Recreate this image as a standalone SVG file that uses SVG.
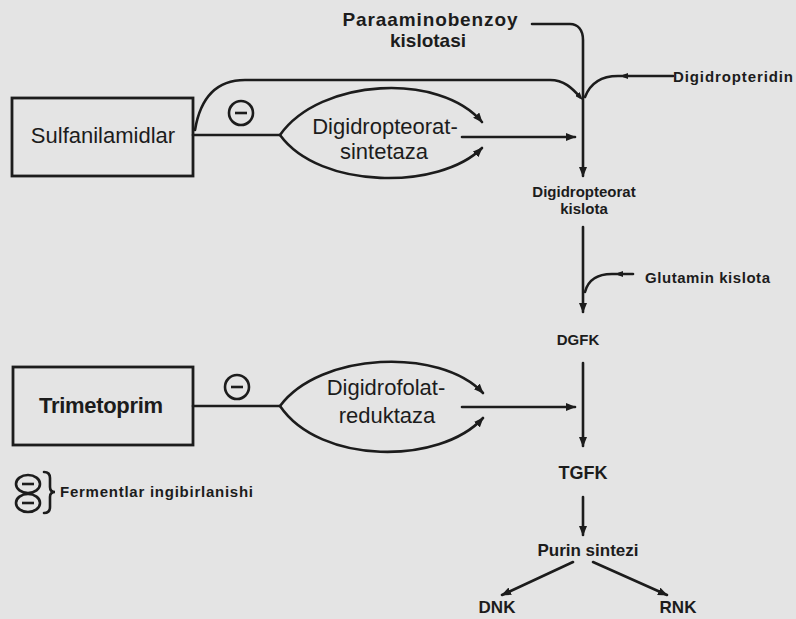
<svg xmlns="http://www.w3.org/2000/svg" width="796" height="619" viewBox="0 0 796 619">
<defs>
<style>
.ln{fill:none;stroke:#1c1c1c;stroke-width:2.6;stroke-linecap:round}
.box{fill:none;stroke:#1c1c1c;stroke-width:2.8}
.t{font-family:"Liberation Sans",Arial,sans-serif;fill:#1c1c1c}
.big{font-size:22px}
.b{font-weight:bold}
.inh{fill:none;stroke:#1c1c1c;stroke-width:2.6}
</style>
<marker id="ah" viewBox="0 0 10 8" refX="9" refY="4" markerWidth="10" markerHeight="8" markerUnits="userSpaceOnUse" orient="auto">
<path d="M0,0 L10,4 L0,8 Z" fill="#1c1c1c"/>
</marker>
<marker id="ahs" viewBox="0 0 8 6" refX="4" refY="3" markerWidth="8" markerHeight="6" markerUnits="userSpaceOnUse" orient="auto">
<path d="M0,0 L8,3 L0,6 Z" fill="#1c1c1c"/>
</marker>
</defs>
<rect x="0" y="0" width="796" height="619" fill="#e4e4e4"/>

<g id="connectors">
<path class="ln" d="M532,24 L570,24 C578,24 583,30 583,40 L583,176" marker-end="url(#ah)"/>
<path class="ln" d="M195,130 C200,100 215,80 245,80 L550,80 C564,80 572,88 580,97" marker-end="url(#ahs)"/>
<path class="ln" d="M673,76 L624,76" marker-end="url(#ahs)"/>
<path class="ln" d="M626,76 L618,76 C600,76 590,84 585,97"/>
<path class="ln" d="M193,135 L280,135"/>
<path class="ln" d="M280,135 C320,78 440,72 482,122" marker-end="url(#ah)"/>
<path class="ln" d="M280,135 C320,190 440,190 482,148" marker-end="url(#ah)"/>
<path class="ln" d="M462,137 L575,137" marker-end="url(#ah)"/>
<path class="ln" d="M583,227 L583,312" marker-end="url(#ah)"/>
<path class="ln" d="M633,274 L619,274" marker-end="url(#ahs)"/>
<path class="ln" d="M621,274 L612,274 C598,274 588,280 585,292"/>
<path class="ln" d="M193,406 L280,406"/>
<path class="ln" d="M280,406 C320,352 440,347 483,393" marker-end="url(#ah)"/>
<path class="ln" d="M280,406 C320,465 440,465 483,418" marker-end="url(#ah)"/>
<path class="ln" d="M462,407 L575,407" marker-end="url(#ah)"/>
<path class="ln" d="M583,363 L583,446" marker-end="url(#ah)"/>
<path class="ln" d="M583,497 L583,535" marker-end="url(#ah)"/>
<path class="ln" d="M573,562 L502,595" marker-end="url(#ah)"/>
<path class="ln" d="M593,562 L667,595" marker-end="url(#ah)"/>
</g>

<g id="paba">
<text class="t b" x="430" y="26" font-size="19" text-anchor="middle" textLength="175">Paraaminobenzoy</text>
<text class="t b" x="428" y="47" font-size="19" text-anchor="middle">kislotasi</text>
</g>
<g id="digidropteridin">
<text class="t b" x="673" y="82" font-size="15" textLength="120">Digidropteridin</text>
</g>
<g id="sulfanilamidlar">
<rect class="box" x="12" y="98" width="181" height="78"/>
<text class="t big" x="103" y="143" text-anchor="middle">Sulfanilamidlar</text>
</g>
<g id="inhibit1">
<circle class="inh" cx="241" cy="113" r="12"/>
<line class="inh" x1="235" y1="113" x2="247" y2="113"/>
</g>
<g id="enzyme1">
<text class="t big" x="385" y="134" text-anchor="middle">Digidropteorat-</text>
<text class="t big" x="384" y="159" text-anchor="middle">sintetaza</text>
</g>
<g id="digidropteorat-kislota">
<text class="t b" x="584" y="197" font-size="15" text-anchor="middle">Digidropteorat</text>
<text class="t b" x="584" y="214" font-size="15" text-anchor="middle">kislota</text>
</g>
<g id="glutamin">
<text class="t b" x="645" y="283" font-size="15" textLength="125">Glutamin kislota</text>
</g>
<g id="dgfk">
<text class="t b" x="578" y="345" font-size="15" text-anchor="middle">DGFK</text>
</g>
<g id="trimetoprim">
<rect class="box" x="13" y="367" width="180" height="78"/>
<text class="t big b" x="101" y="413" text-anchor="middle" textLength="124">Trimetoprim</text>
</g>
<g id="inhibit2">
<circle class="inh" cx="237" cy="387" r="12"/>
<line class="inh" x1="231" y1="387" x2="243" y2="387"/>
</g>
<g id="enzyme2">
<text class="t big" x="386" y="395" text-anchor="middle">Digidrofolat-</text>
<text class="t big" x="387" y="423" text-anchor="middle">reduktaza</text>
</g>
<g id="tgfk">
<text class="t b" x="583" y="479" font-size="18" text-anchor="middle">TGFK</text>
</g>
<g id="purin">
<text class="t b" x="588" y="556" font-size="17" text-anchor="middle">Purin sintezi</text>
</g>
<g id="dnk">
<text class="t b" x="497" y="613" font-size="17" text-anchor="middle">DNK</text>
</g>
<g id="rnk">
<text class="t b" x="678" y="613" font-size="17" text-anchor="middle">RNK</text>
</g>
<g id="legend">
<ellipse class="inh" cx="28" cy="484" rx="12" ry="9"/>
<line class="inh" x1="22" y1="484" x2="34" y2="484"/>
<ellipse class="inh" cx="28" cy="503" rx="12" ry="9"/>
<line class="inh" x1="22" y1="503" x2="34" y2="503"/>
<path class="ln" stroke-width="2" d="M44,472 Q50,472 50,478 L50,487 Q50,492 55,492 Q50,492 50,497 L50,507 Q50,513 44,513"/>
<text class="t b" x="60" y="497" font-size="15" textLength="193">Fermentlar ingibirlanishi</text>
</g>
</svg>
